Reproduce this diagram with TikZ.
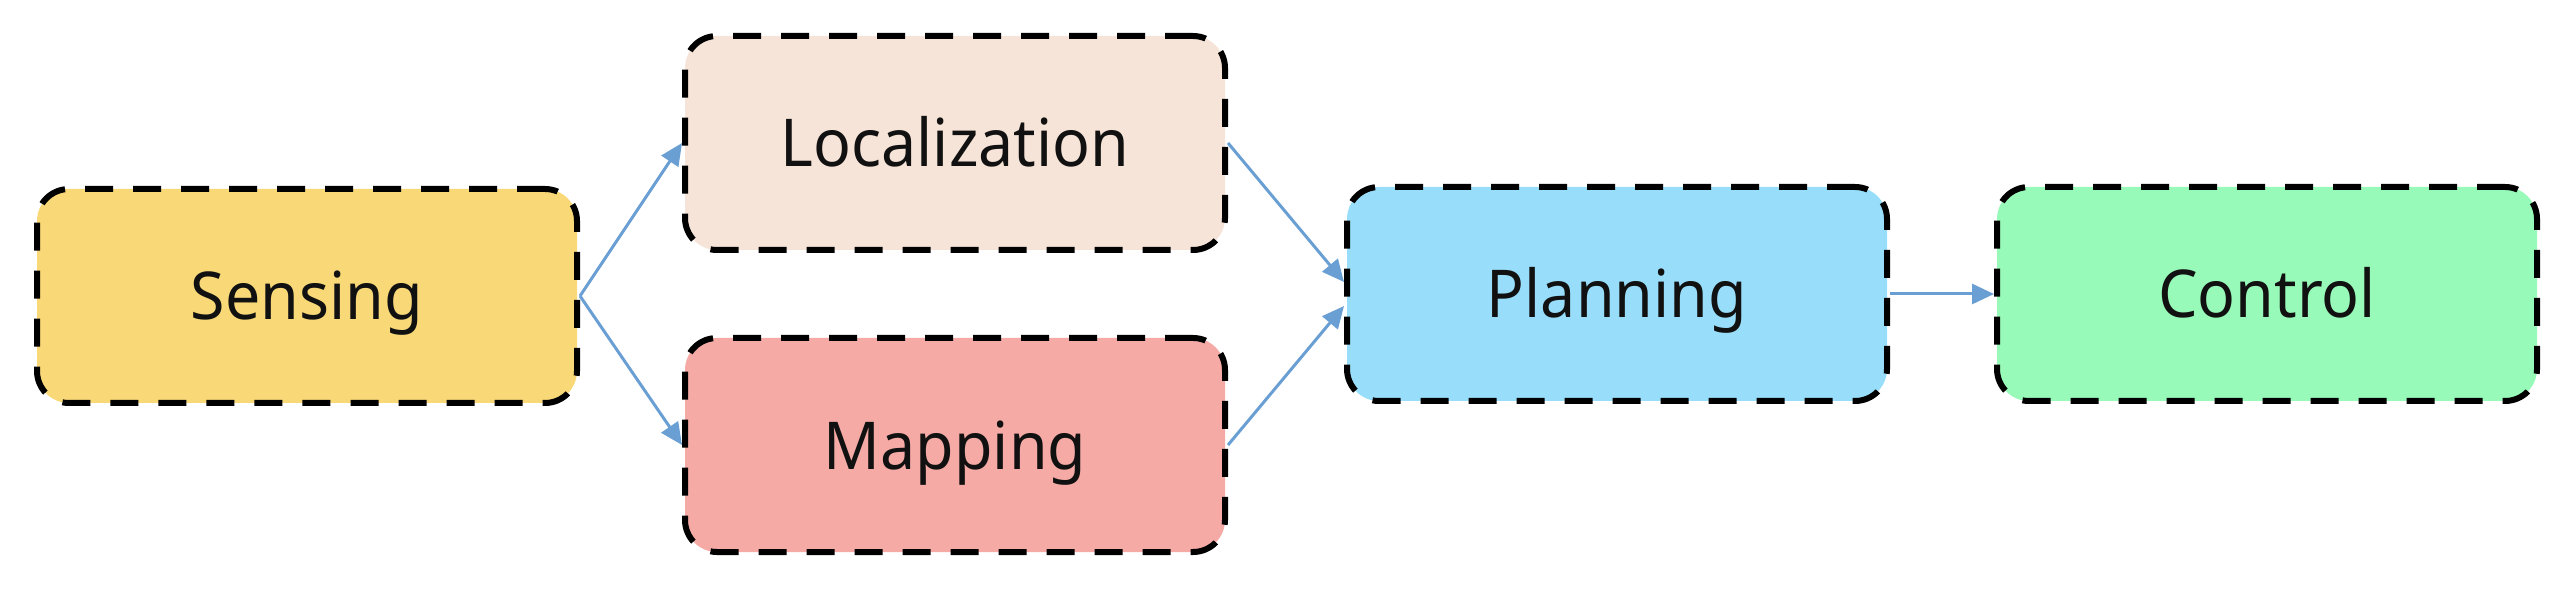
\documentclass[tikz,border=0pt]{standalone}
\usepackage{fontspec}
\setmainfont{Noto Sans}[FakeStretch=0.95]
\usetikzlibrary{arrows.meta}
\definecolor{sensecol}{HTML}{F9D877}
\definecolor{loccol}{HTML}{F7E4D8}
\definecolor{mapcol}{HTML}{F5AAA5}
\definecolor{plancol}{HTML}{98DEFA}
\definecolor{ctrlcol}{HTML}{97FAB8}
\definecolor{arrowblue}{HTML}{6A9FD4}
\definecolor{txt}{HTML}{111111}
\begin{document}
\begin{tikzpicture}[x=0.5pt,y=-0.5pt,
  box/.style={draw=black, line width=3pt, dash pattern=on 14pt off 10pt,
    rounded corners=16pt, minimum width=270pt, minimum height=107pt,
    inner sep=0pt, text height=24pt, text depth=0pt, text=txt,
    font=\fontsize{33}{39}\selectfont},
  conn/.style={draw=arrowblue, line width=1.5pt, -{Triangle[length=11pt,width=10pt]}}]
\useasboundingbox (0,0) rectangle (2564,598);
\node[box, fill=sensecol] (sense) at (307,296) {Sensing};
\node[box, fill=loccol] (loc) at (955,143) {Localization};
\node[box, fill=mapcol] (map) at (955,445) {Mapping};
\node[box, fill=plancol] (plan) at (1617,294) {Planning};
\node[box, fill=ctrlcol] (ctrl) at (2267,294) {Control};
\draw[conn] (sense.east) -- (loc.west);
\draw[conn] (sense.east) -- (map.west);
\draw[conn] (loc.east) -- ([yshift=6pt]plan.west);
\draw[conn] (map.east) -- ([yshift=-6pt]plan.west);
\draw[conn] (plan.east) -- (ctrl.west);
\end{tikzpicture}
\end{document}
